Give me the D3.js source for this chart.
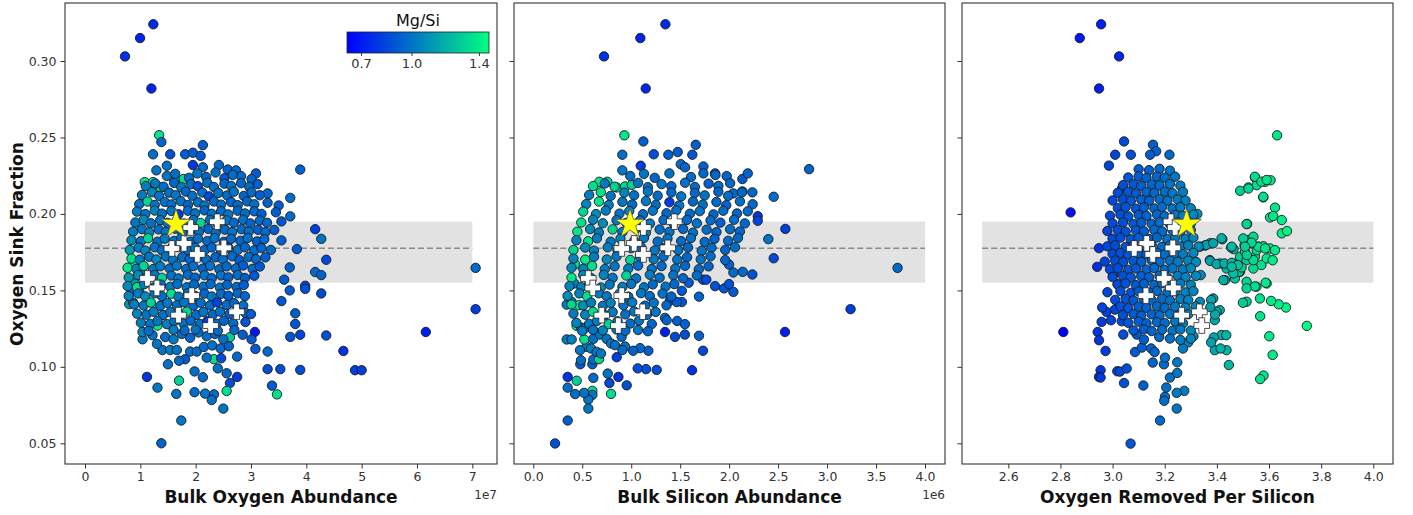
<!DOCTYPE html>
<html>
<head>
<meta charset="utf-8">
<script src="https://cdn.jsdelivr.net/npm/d3@7"></script>
<style>
  body { margin: 0; background: #fff; }
  text { font-family: "DejaVu Sans", sans-serif; }
</style>
</head>
<body>
<div id="chart"></div>
<script>
// tick labels
var fracTicks = [0.05, 0.10, 0.15, 0.20, 0.25, 0.30];
var oxygenTicks = [0, 1, 2, 3, 4, 5, 6, 7];
var siliconTicks = [0, 0.5, 1.0, 1.5, 2.0, 2.5, 3.0, 3.5, 4.0];
var removedTicks = [2.6, 2.8, 3.0, 3.2, 3.4, 3.6, 3.8, 4.0];
var mgTicks = [0.7, 1.0, 1.4];

// reference band and line (oxygen sink fraction)
var bandLow = 0.155, bandHigh = 0.195, bandMid = 0.1775;

// highlighted systems (white crosses), shared across the three panels
var plusFrac = [0.1949, 0.1911, 0.1807, 0.1774, 0.1778, 0.1735, 0.1578, 0.1516, 0.1466, 0.1338, 0.1360, 0.1270];
var plusOxygen = [2.39, 1.91, 1.79, 1.57, 2.51, 2.03, 1.13, 1.30, 1.93, 1.69, 2.74, 2.27];
var plusSilicon = [1.44, 1.124, 1.03, 0.903, 1.373, 1.124, 0.562, 0.607, 0.903, 0.699, 1.117, 0.868];
var plusRemoved = [3.224, 3.24, 3.131, 3.083, 3.231, 3.154, 3.198, 3.233, 3.128, 3.265, 3.333, 3.342];

// the Sun (yellow star)
var sunFrac = 0.194, sunOxygen = 1.645, sunSilicon = 0.988, sunRemoved = 3.284;

// [bulk O (1e7), sink fraction, Mg/Si]
var oxygenPts = [
[1.235,.324,.76],[0.995,.315,.74],[0.723,.303,.78],[1.20,.282,.74],
[1.34,.2515,1.38],[1.38,.247,.95],[1.23,.239,.98],[1.54,.239,.88],[1.81,.239,.93],[1.95,.240,.93],[2.09,.238,.9],[2.13,.245,.93],[1.95,.232,.8],[1.48,.2315,1.0],[1.29,.2285,1.0],[2.13,.2305,.97],[3.89,.229,.94],[2.42,.232,.96],[2.58,.229,.94],[2.73,.2285,.96],[3.09,.2265,.92],[2.82,.2247,.97],[3.01,.2228,.95],
[1.08,.2208,1.38],[1.23,.2208,1.36],[1.37,.2173,1.4],[1.78,.2228,1.33],[1.62,.222,1.3],
[3.30,.2134,.96],[3.30,.2073,.94],[3.71,.2105,.98],[3.71,.1984,.97],[4.16,.190,.82],[4.27,.1837,1.0],[4.36,.170,.86],[4.16,.162,.97],[4.27,.160,.94],[4.27,.148,.86],[3.98,.153,.86],[3.98,.151,.88],[7.06,.1647,.97],[7.06,.1377,.82],[6.16,.1228,.72],[4.67,.1104,.78],[4.88,.0978,.82],[5.0,.0978,.82],[4.36,.1205,.88],[3.89,.121,.84],[3.71,.1196,.9],[3.80,.128,.9],[3.89,.098,.86],[3.53,.0985,.88],[3.30,.0985,.88],[3.38,.0877,.93],[3.47,.082,1.36],[3.30,.110,.96],[3.07,.1228,.7],[3.01,.118,.9],[3.08,.1117,.92],[2.75,.1067,.97],[2.62,.1194,1.3],[2.75,.0934,.82],[2.62,.0894,.87],[2.56,.0842,1.35],[2.56,.0958,.97],[2.50,.0727,1.0],[2.33,.082,.97],[2.17,.0825,1.0],[1.98,.0834,.97],[2.29,.0783,.99],[2.13,.0932,.97],[1.70,.091,1.3],[1.65,.0823,1.0],[1.31,.0864,1.02],[1.12,.0934,.8],[1.74,.0649,1.0],[1.38,.050,.94],[2.33,.105,1.35],[2.46,.1056,.87],[1.98,.097,.97],[1.81,.105,.92],[1.9,.11,.99],[2.02,.11,.97],[1.50,.1017,.99],[1.04,.118,1.02],[1.04,.1228,1.07],[1.22,.1207,1.0],[1.31,.127,1.38],[1.40,.111,1.0],[1.54,.111,1.02],[1.66,.111,1.0],[0.80,.141,1.12],[0.87,.142,1.07],[0.84,.150,.97],[0.98,.1495,1.02],[0.90,.167,1.35],[0.90,.1545,1.12],[0.99,.1617,1.07],
[1.45,.1195,.97],[1.6,.118,1.02],[1.75,.1215,.98],[1.9,.119,.95],[2.05,.1225,.99],[2.2,.12,.97],[2.35,.1215,.94],[2.5,.118,.98],[2.85,.121,.92],[1.3,.115,1.0],[2.15,.113,.97],[2.3,.114,.99],[2.45,.112,.97],[2.6,.1135,.95],[2.2,.106,.98],[1.7,.104,.97],[2.4,.099,.99],
[3.6,.157,.92],[3.7,.150,.92],[3.55,.143,.9],[3.8,.135,.92],[3.7,.165,.92],[3.83,.177,.92],
[1.48,.2248,1.0],[1.63,.2262,.98],[1.88,.2236,.97],[2.03,.2265,1.01],[2.19,.2241,.96],[2.36,.2271,.99],[2.52,.2233,.9],[2.67,.2255,.98],
[1.1,.2182,1.03],[1.27,.2199,1.0],[1.42,.2178,.98],[1.61,.2203,.96],[1.74,.2175,1.01],[1.92,.2195,.98],[2.04,.2181,.88],[2.21,.2204,1.0],[2.33,.2176,.98],[2.52,.2198,.96],[2.64,.2183,.99],[2.82,.2201,.95],[2.97,.2177,.98],[3.12,.2195,.93],
[1.03,.2124,1.02],[1.21,.2142,1.05],[1.34,.2118,1.0],[1.52,.2139,.98],[1.64,.2122,1.01],[1.82,.2146,.96],[1.94,.2119,.99],[2.12,.214,.98],[2.24,.2115,.86],[2.41,.2137,1.0],[2.57,.2121,.97],[2.69,.2145,.99],[2.87,.2118,.95],[3.01,.2141,.98],[3.16,.2122,.93],
[0.98,.2064,.99],[1.13,.2081,1.32],[1.26,.2058,1.01],[1.44,.2079,.99],[1.56,.2062,.97],[1.73,.2084,1.0],[1.86,.2059,.95],[2.04,.2076,.98],[2.16,.2055,1.01],[2.33,.2081,.97],[2.46,.2061,.99],[2.64,.2078,.94],[2.76,.2057,.98],[2.93,.2082,.96],[3.06,.2063,.99],[3.5,.2055,.92],
[0.94,.2015,1.03],[1.09,.1999,1.0],[1.26,.2022,1.05],[1.39,.2002,.98],[1.56,.2019,1.01],[1.69,.1998,.82],[1.86,.2021,.98],[1.99,.2004,1.0],[2.16,.2023,.96],[2.29,.2001,.99],[2.46,.2018,.97],[2.59,.1997,1.0],[2.76,.2021,.95],[2.89,.2003,.98],[3.06,.2017,.96],[3.19,.2,.93],[3.45,.2011,.93],
[0.91,.1944,1.01],[1.06,.1962,1.08],[1.19,.1939,.99],[1.36,.1959,1.02],[1.49,.1942,.98],[1.66,.1957,1.0],[1.79,.1937,.96],[1.96,.196,.99],[2.09,.1941,1.32],[2.26,.1961,.98],[2.39,.1939,.95],[2.56,.1958,1.0],[2.69,.1943,.97],[2.86,.1962,.99],[2.99,.1938,.95],[3.16,.1957,.98],[3.29,.1942,.96],[3.55,.1951,.9],
[0.87,.1884,1.03],[1.03,.1901,1.0],[1.16,.1879,1.05],[1.33,.1899,.98],[1.46,.1882,1.01],[1.63,.1903,.99],[1.76,.1878,.96],[1.93,.1898,1.0],[2.06,.1883,.98],[2.23,.1902,.95],[2.36,.1877,.99],[2.53,.1897,.97],[2.66,.1881,1.0],[2.83,.19,.96],[2.96,.1885,.98],[3.13,.1896,.94],[3.26,.188,.97],[3.42,.1895,.92],
[0.84,.1828,1.08],[1.01,.1821,1.01],[1.14,.1841,1.32],[1.31,.1818,.99],[1.44,.1838,1.02],[1.61,.1823,.98],[1.74,.1843,1.0],[1.91,.1819,.96],[2.04,.1839,.99],[2.21,.1822,.97],[2.34,.1842,1.0],[2.51,.1817,.95],[2.64,.1837,.98],[2.81,.1824,.96],[2.94,.1843,.99],[3.11,.182,.93],[3.24,.1835,.97],[3.55,.1827,.93],
[0.81,.1764,1.12],[0.97,.178,1.03],[1.09,.176,1.05],[1.26,.1782,1.0],[1.39,.1762,.98],[1.56,.1776,1.01],[1.69,.1783,.99],[1.86,.1761,.96],[1.99,.1778,1.0],[2.16,.1763,.98],[2.29,.1781,.95],[2.46,.1759,.99],[2.59,.1779,.97],[2.76,.1765,1.0],[2.89,.1782,.96],[3.06,.1762,.98],[3.19,.1777,.94],[3.36,.1764,.97],
[0.84,.1708,1.36],[0.99,.1701,1.03],[1.16,.172,1.0],[1.29,.1702,1.08],[1.46,.1722,.99],[1.59,.1699,1.01],[1.76,.1718,.98],[1.89,.1704,.96],[2.06,.1721,1.0],[2.19,.1701,.98],[2.36,.1717,.95],[2.49,.1703,.99],[2.66,.1723,.97],[2.79,.1698,.93],[2.96,.1719,.98],[3.09,.1705,.96],[3.26,.1716,.93],
[0.77,.1648,1.38],[0.93,.1641,1.05],[1.06,.166,1.32],[1.23,.1639,1.01],[1.36,.1658,1.03],[1.53,.1643,.98],[1.66,.1662,1.0],[1.83,.164,.97],[1.96,.1659,.99],[2.13,.1642,.95],[2.26,.1661,1.0],[2.43,.1638,.98],[2.56,.1657,.96],[2.73,.1644,.99],[2.86,.1663,.93],[3.03,.1641,.97],[3.16,.1656,.91],
[0.79,.1584,1.12],[0.96,.16,1.08],[1.09,.158,1.03],[1.26,.1601,1.0],[1.39,.1582,1.32],[1.56,.1597,.99],[1.69,.1578,1.01],[1.86,.1602,.98],[1.99,.1583,.96],[2.16,.1599,1.0],[2.29,.1579,.97],[2.46,.1598,.99],[2.59,.1585,.95],[2.76,.1601,.98],[2.89,.1581,.93],[3.06,.1596,.91],
[0.77,.1528,1.08],[0.94,.1521,1.36],[1.07,.154,1.03],[1.24,.1519,1.01],[1.37,.1538,.99],[1.54,.1523,1.03],[1.67,.1542,.98],[1.84,.152,1.0],[1.97,.1539,.96],[2.14,.1524,.99],[2.27,.1541,.97],[2.44,.1518,1.0],[2.57,.1537,.95],[2.74,.1522,.98],[2.87,.1535,.93],
[0.79,.1464,1.05],[0.96,.148,1.03],[1.09,.1461,1.08],[1.26,.1481,1.0],[1.39,.1462,.98],[1.56,.1478,1.36],[1.69,.1459,1.01],[1.86,.1482,.97],[1.99,.1463,.99],[2.16,.1479,.96],[2.29,.146,1.0],[2.46,.1477,.98],[2.59,.1465,.93],[2.76,.1481,.97],[2.89,.1462,.95],
[0.89,.1408,1.03],[1.06,.1401,1.01],[1.19,.142,1.32],[1.36,.1399,.99],[1.49,.1418,1.02],[1.66,.1403,.98],[1.79,.1422,1.0],[1.96,.14,.96],[2.09,.1419,.99],[2.26,.1402,.97],[2.39,.1421,.84],[2.56,.1404,.98],[2.69,.1417,.95],[2.86,.1401,.99],
[0.94,.1348,1.05],[1.11,.1341,1.0],[1.24,.136,1.03],[1.41,.1339,.99],[1.54,.1358,1.01],[1.71,.1343,.97],[1.84,.1362,1.32],[2.01,.134,.98],[2.14,.1359,1.0],[2.31,.1342,.96],[2.44,.1361,.99],[2.61,.1344,.93],[2.9,.1353,.96],[3.0,.1345,.92],
[1.01,.1288,1.03],[1.18,.1281,.99],[1.31,.13,1.01],[1.48,.1279,1.05],[1.61,.1298,.98],[1.78,.1283,1.0],[1.91,.1302,.96],[2.08,.128,.99],[2.21,.1299,.8],[2.38,.1282,.98],[2.51,.1301,.95],[2.68,.1284,.98],[2.9,.1293,.9],
[1.15,.1235,.98],[1.6,.1242,1.03],[1.8,.1238,.96],[2.0,.1244,.99],[2.4,.1236,.98],[2.7,.1241,.95]
];

// [bulk Si (1e6), sink fraction, Mg/Si]
var siliconPts = [
[1.349,.324,.76],[1.093,.315,.74],[0.722,.303,.78],[1.148,.282,.74],
[0.93,.2514,1.38],[1.124,.2474,.93],[0.909,.2387,.98],[1.23,.239,.88],[1.379,.2387,.93],[1.475,.2405,.93],[1.624,.2387,.9],[1.659,.2452,.93],[1.097,.2315,.82],[0.909,.2285,1.0],[2.816,.2293,.94],[0.674,.221,1.38],[0.756,.221,1.36],[0.852,.2173,1.4],[0.937,.218,1.33],[1.005,.219,1.3],[1.506,.2325,.97],[1.55,.2305,.95],[1.737,.231,.94],[1.737,.2265,.96],[1.856,.2265,.97],[1.975,.2247,.95],[2.135,.2228,.92],[2.19,.2265,.94],[2.043,.2134,.96],[2.135,.2147,.94],[2.237,.2141,.95],[2.455,.2112,.98],[2.292,.1985,.82],[2.292,.1955,.84],[2.574,.1902,.82],[2.40,.1835,1.0],[2.455,.171,.86],
[3.72,.1647,.97],[3.24,.1377,.82],[2.57,.1228,.72],
[2.237,.1604,.88],[2.139,.1621,.97],[2.043,.1617,.97],[1.999,.1669,.94],[2.043,.149,.92],[1.948,.1513,.9],[1.856,.1528,.88],[1.999,.1541,.88],[1.692,.1459,.94],[1.733,.157,.88],[1.767,.157,.86],[1.587,.155,.92],[1.517,.1497,.9],[1.396,.1435,.92],[1.517,.1424,.9],[1.465,.1424,.92],[1.345,.132,.97],[1.362,.1305,.94],[1.469,.130,.92],[1.548,.1279,.94],[1.345,.1228,.72],[1.447,.1196,.86],[1.548,.1211,.88],[1.692,.1203,.94],[1.733,.1105,.86],[1.621,.0978,.78],[1.260,.098,.88],[1.151,.0985,.88],[1.066,.099,.88],[1.175,.1105,.92],[1.09,.1122,.96],[1.02,.1105,.94],[0.937,.1133,1.0],[0.852,.1063,.82],[0.91,.111,.98],[0.954,.0879,.88],[0.869,.0934,.78],[0.777,.0894,.86],[0.760,.0956,1.0],[0.794,.0823,1.35],[0.603,.0843,1.35],[0.603,.0817,1.0],[0.562,.0786,1.0],[0.562,.0727,1.0],[0.518,.083,1.0],[0.427,.0822,.98],[0.613,.0928,.98],[0.443,.0909,1.3],[0.351,.0934,.78],[0.351,.0864,.98],[0.351,.0649,.92],[0.222,.0499,.88],[0.48,.1017,.92],[0.487,.1043,.98],[0.603,.1017,.94],[0.613,.1048,.98],[0.671,.105,1.35],
[0.545,.1131,1.02],[0.477,.1109,1.0],[0.589,.112,1.04],[0.647,.1098,1.0],[0.691,.1087,1.02],
[0.341,.1179,1.02],[0.392,.1179,1.04],[0.521,.1179,1.35],[0.443,.1268,1.38],[0.487,.1257,1.0],[0.538,.1257,1.02],[0.613,.1183,.98],[0.681,.1211,1.02],[0.749,.1183,1.0],[0.794,.1153,1.02],[0.834,.1142,.99],[0.902,.1196,.97],
[0.341,.1407,1.04],[0.392,.1425,1.02],[0.467,.1403,1.38],[0.426,.1671,1.35],[0.419,.1545,1.04],
[0.99,.2248,.98],[1.13,.2262,1.0],[1.24,.2236,.96],[1.39,.2265,.99],[1.61,.2241,.97],[1.86,.2255,.95],
[0.61,.2182,1.36],[0.73,.2199,1.02],[0.83,.2178,1.3],[1.07,.2203,1.0],[1.17,.2175,.98],[1.31,.2195,1.01],[1.41,.2181,.96],[1.55,.2204,.99],[1.65,.2176,.97],[1.79,.2198,.93],[1.89,.2183,.98],[2.01,.2201,.96],
[0.57,.2124,1.03],[0.69,.2142,1.36],[0.79,.2118,1.01],[0.93,.2139,1.05],[1.03,.2122,.99],[1.17,.2146,1.01],[1.27,.2119,.98],[1.41,.214,.96],[1.51,.2115,1.0],[1.65,.2137,.97],[1.75,.2121,.99],[1.89,.2145,.95],[1.99,.2118,.98],[2.13,.2141,.96],
[0.54,.2064,1.05],[0.67,.2081,1.38],[0.77,.2058,1.03],[0.91,.2079,1.0],[1.01,.2062,.98],[1.15,.2084,1.02],[1.25,.2059,.99],[1.39,.2076,.82],[1.49,.2055,1.0],[1.63,.2081,.96],[1.73,.2061,.99],[1.87,.2078,.97],[1.97,.2057,.94],[2.11,.2082,.98],[2.24,.2063,.96],
[0.51,.2015,1.32],[0.64,.1999,1.08],[0.74,.2022,1.03],[0.88,.2002,1.0],[0.98,.2019,1.05],[1.12,.1998,.98],[1.22,.2021,1.01],[1.36,.2004,.96],[1.46,.2023,.99],[1.6,.2001,.97],[1.7,.2018,1.0],[1.84,.1997,.95],[1.94,.2021,.98],[2.08,.2003,.96],[2.19,.2017,.97],
[0.49,.1944,1.36],[0.61,.1962,1.05],[0.71,.1939,1.08],[0.85,.1959,1.01],[0.95,.1942,1.03],[1.09,.1957,.99],[1.19,.1937,1.02],[1.33,.196,.98],[1.43,.1941,1.0],[1.57,.1961,.96],[1.67,.1939,.99],[1.81,.1958,.97],[1.91,.1943,.93],[2.05,.1962,.98],[2.16,.1938,.96],
[0.45,.1884,1.38],[0.58,.1901,1.08],[0.67,.1879,1.03],[0.81,.1899,1.32],[0.91,.1882,1.01],[1.05,.1903,.99],[1.15,.1878,1.03],[1.29,.1898,.98],[1.39,.1883,1.0],[1.53,.1902,.96],[1.63,.1877,.99],[1.77,.1897,.97],[1.87,.1881,.95],[2.01,.19,.98],[2.11,.1885,.96],
[0.44,.1828,1.05],[0.56,.1821,1.36],[0.65,.1841,1.03],[0.79,.1818,1.01],[0.89,.1838,1.05],[1.03,.1823,.99],[1.13,.1843,1.01],[1.27,.1819,.98],[1.37,.1839,1.0],[1.51,.1822,.96],[1.61,.1842,.99],[1.75,.1817,.97],[1.85,.1837,.95],[1.99,.1824,.98],[2.09,.1843,.96],
[0.41,.1764,1.32],[0.53,.178,1.08],[0.62,.176,1.05],[0.76,.1782,1.03],[0.86,.1762,1.0],[1.0,.1776,1.05],[1.1,.1783,.98],[1.24,.1761,1.01],[1.34,.1778,.97],[1.48,.1763,.99],[1.58,.1781,.96],[1.72,.1759,1.0],[1.82,.1779,.97],[1.96,.1765,.94],[2.06,.1782,.98],
[0.41,.1708,1.05],[0.53,.1701,1.38],[0.62,.172,1.03],[0.75,.1702,1.08],[0.85,.1722,1.01],[0.99,.1699,1.32],[1.09,.1718,.99],[1.23,.1704,1.02],[1.33,.1721,.98],[1.47,.1701,1.0],[1.57,.1717,.96],[1.71,.1703,.99],[1.81,.1723,.97],[1.96,.1698,.95],
[0.39,.1648,1.08],[0.51,.1641,1.05],[0.6,.166,1.36],[0.73,.1639,1.03],[0.83,.1658,1.0],[0.97,.1643,1.03],[1.07,.1662,.98],[1.21,.164,1.01],[1.31,.1659,.97],[1.45,.1642,1.0],[1.55,.1661,.96],[1.69,.1638,.98],[1.79,.1657,.95],
[0.39,.1584,1.38],[0.51,.16,1.08],[0.59,.158,1.03],[0.72,.1601,1.05],[0.81,.1582,1.01],[0.95,.1597,1.32],[1.05,.1578,.99],[1.19,.1602,1.02],[1.29,.1583,.98],[1.43,.1599,1.0],[1.53,.1579,.96],[1.67,.1598,.98],
[0.37,.1528,1.05],[0.49,.1521,1.03],[0.57,.154,1.32],[0.69,.1519,1.08],[0.78,.1538,1.01],[0.91,.1523,1.03],[1.0,.1542,.99],[1.13,.152,1.01],[1.22,.1539,.97],[1.35,.1524,1.0],[1.44,.1541,.96],
[0.35,.1464,1.08],[0.47,.148,1.05],[0.55,.1461,1.36],[0.67,.1481,1.03],[0.75,.1462,1.01],[0.88,.1478,1.05],[0.97,.1459,.98],[1.1,.1482,1.01],[1.19,.1463,.97],[1.32,.1479,.99],[1.41,.146,.95],
[0.39,.1408,1.32],[0.51,.1401,1.08],[0.59,.142,1.03],[0.71,.1399,1.01],[0.79,.1418,1.05],[0.92,.1403,.99],[1.01,.1422,1.02],[1.14,.14,.98],[1.23,.1419,1.0],[1.36,.1402,.96],
[0.41,.1348,1.03],[0.53,.1341,1.05],[0.61,.136,1.36],[0.73,.1339,1.01],[0.81,.1358,1.03],[0.94,.1343,.99],[1.03,.1362,1.01],[1.16,.134,.97],[1.25,.1359,.99],
[0.44,.1288,1.05],[0.57,.1281,1.01],[0.65,.13,1.03],[0.77,.1279,1.32],[0.86,.1298,1.0],[0.99,.1283,.98],[1.08,.1302,1.01],[1.21,.128,.96],
[0.5,.1235,1.03],[0.61,.1242,.99],[0.71,.1238,1.05],[0.85,.1244,1.01],[0.94,.1236,.98],[1.07,.1241,1.0],[1.17,.1233,.95]
];

// [oxygen removed per Si, sink fraction, Mg/Si]
var removedPts = [
[2.956,.324,.72],[2.874,.315,.7],[3.025,.303,.74],[2.948,.282,.72],[3.631,.2514,1.38],[3.044,.2474,.86],[3.01,.2387,.84],[3.07,.2387,.88],[3.155,.2452,.94],[3.167,.241,.94],[3.144,.2387,.92],[3.218,.2387,.96],[2.986,.2316,.84],[2.839,.201,.68],[3.036,.2165,.86],
[3.489,.2151,1.3],[3.521,.2173,1.32],[3.546,.2238,1.36],[3.553,.2188,1.35],[3.585,.221,1.37],[3.606,.222,1.38],[3.578,.2108,1.37],[3.623,.2041,1.39],[3.604,.1977,1.38],[3.616,.1986,1.39],[3.649,.196,1.41],[3.516,.1934,1.32],[3.649,.1873,1.41],[3.669,.1888,1.43],
[3.521,.2166,1.32],[3.546,.2243,1.35],[3.571,.2211,1.36],[3.591,.2222,1.37],[3.578,.2112,1.36],[3.514,.1934,1.31],
[3.325,.2,1.1],[3.421,.1834,1.18],[3.374,.1808,1.14],[3.354,.1793,1.12],[3.335,.1786,1.1],[3.464,.177,1.24],[3.455,.178,1.22],
[3.418,.1841,1.2],[3.36,.1797,1.14],[3.386,.1808,1.16],[3.457,.1786,1.23],[3.373,.1698,1.15],[3.411,.1676,1.19],[3.437,.1643,1.21],[3.462,.1676,1.24],[3.489,.172,1.28],[3.508,.1753,1.3],[3.521,.1829,1.32],[3.54,.1851,1.34],[3.559,.1786,1.35],[3.514,.1698,1.31],[3.546,.172,1.34],[3.571,.1666,1.36],[3.54,.1643,1.34],[3.489,.1622,1.28],[3.469,.1578,1.26],[3.431,.1567,1.21],[3.514,.1556,1.31],[3.552,.1524,1.35],[3.591,.1545,1.38],[3.386,.1447,1.16],[3.411,.1371,1.19],[3.392,.1306,1.17],[3.514,.1426,1.31],[3.565,.1447,1.36],[3.418,.1208,1.2],[3.437,.1109,1.22],[3.392,.1109,1.17],
[3.374,.1693,1.15],[3.399,.1672,1.18],[3.429,.1676,1.21],[3.457,.168,1.24],[3.485,.1622,1.28],[3.425,.1567,1.2],[3.463,.1611,1.25],[3.495,.165,1.29],[3.48,.1665,1.27],[3.457,.1654,1.24],[3.54,.1698,1.34],[3.515,.1731,1.31],[3.553,.1763,1.35],[3.578,.1789,1.37],[3.604,.1774,1.38],[3.623,.1763,1.39],[3.591,.1709,1.38],[3.506,.1796,1.3],[3.532,.1807,1.33],[3.559,.1785,1.35],
[3.501,.184,1.3],[3.533,.1812,1.33],[3.585,.1775,1.37],[3.508,.1786,1.3],
[2.811,.1228,.62],[2.941,.1654,.78],[2.948,.1776,.78],
[3.745,.1268,1.45],[3.665,.1388,1.43],[3.637,.1409,1.42],[3.608,.1431,1.4],[3.614,.1697,1.4],[3.587,.155,1.39],[3.546,.1526,1.35],[3.514,.1513,1.32],[3.566,.1331,1.37],[3.601,.12,1.4],[3.614,.1078,1.4],[3.50,.1419,1.3],[3.436,.1207,1.22],[3.388,.1192,1.17],[3.414,.112,1.2],[3.378,.116,1.16],[3.446,.1012,1.23],[3.579,.0943,1.38],[3.566,.092,1.37],[3.378,.1437,1.16],[3.399,.136,1.18],[3.393,.1342,1.18],[3.375,.139,1.15],
[3.069,.0498,.9],[3.182,.0649,.96],[3.246,.0727,1.01],[3.275,.0843,1.03],[3.246,.083,1.01],[3.201,.0804,.98],[3.198,.0778,.98],[3.206,.0865,.98],[3.22,.093,.99],[3.248,.096,1.01],[3.248,.103,1.01],[3.118,.0878,.93],[3.044,.0894,.88],[2.954,.0978,.8],[2.948,.0934,.8],[2.954,.093,.8],[2.973,.1104,.82],[3.018,.0971,.86],[3.028,.0969,.86],[3.054,.0989,.88],[3.154,.1028,.95],[3.197,.1017,.97],[3.201,.106,.98],[3.179,.1195,.96],[2.943,.1228,.8],[2.948,.1174,.8],[2.958,.1294,.82],[2.977,.1359,.83],[3.009,.1374,.85],[2.994,.1305,.84],[3.035,.1298,.87],[3.041,.1211,.87],[3.093,.1211,.91],[3.086,.1097,.91],[3.112,.1126,.93],[3.148,.112,.95],[3.161,.1097,.95],
[3.003,.1607,.86],[3.019,.1541,.87],[3.338,.16,1.08],[3.335,.1425,1.08],[3.31,.12,1.06],[3.29,.116,1.05],[3.27,.112,1.03],
[3.1,.2292,.92],[3.14,.2286,.94],[3.18,.2295,.97],[3.22,.2283,.99],
[3.06,.2238,.9],[3.1,.2246,.92],[3.13,.2235,.94],[3.17,.2244,.96],[3.2,.2237,.98],[3.24,.2243,1.01],
[3.04,.2188,.88],[3.08,.2195,.91],[3.11,.2184,.93],[3.15,.2193,.95],[3.18,.2186,.97],[3.22,.2196,.99],[3.26,.2185,1.02],
[3.02,.2138,.87],[3.06,.2145,.9],[3.09,.2134,.91],[3.13,.2143,.94],[3.16,.2136,.96],[3.2,.2146,.98],[3.23,.2135,1.0],[3.27,.2144,1.03],
[3.0,.2088,.86],[3.04,.2095,.88],[3.07,.2084,.9],[3.11,.2093,.93],[3.14,.2086,.94],[3.18,.2096,.97],[3.21,.2085,.99],[3.25,.2094,1.02],[3.28,.2087,1.04],
[3.02,.2038,.87],[3.05,.2045,.89],[3.09,.2034,.91],[3.12,.2043,.93],[3.16,.2036,.96],[3.19,.2046,.97],[3.23,.2035,1.0],[3.26,.2044,1.02],[3.3,.2037,1.06],
[2.99,.1988,.86],[3.03,.1995,.88],[3.06,.1984,.9],[3.1,.1993,.92],[3.13,.1986,.94],[3.17,.1996,.96],[3.2,.1985,.98],[3.24,.1994,1.01],[3.27,.1987,1.03],[3.31,.1995,1.06],
[3.0,.1938,.86],[3.04,.1945,.88],[3.08,.1934,.91],[3.11,.1943,.93],[3.15,.1936,.95],[3.18,.1946,.97],[3.22,.1935,.99],[3.25,.1944,1.02],[3.3,.1937,1.06],
[2.98,.1888,.85],[3.02,.1895,.87],[3.05,.1884,.89],[3.09,.1893,.91],[3.12,.1886,.93],[3.16,.1896,.96],[3.19,.1885,.97],[3.23,.1894,1.0],[3.26,.1887,1.02],[3.3,.1895,1.06],
[3.0,.1838,.86],[3.03,.1845,.88],[3.07,.1834,.9],[3.1,.1843,.92],[3.14,.1836,.94],[3.17,.1846,.96],[3.21,.1835,.99],[3.24,.1844,1.01],[3.28,.1837,1.04],[3.31,.1845,1.06],
[2.98,.1788,.85],[3.01,.1795,.87],[3.05,.1784,.89],[3.08,.1793,.91],[3.12,.1786,.93],[3.15,.1796,.95],[3.19,.1785,.97],[3.22,.1794,.99],[3.26,.1787,1.02],[3.29,.1795,1.05],[3.33,.1786,1.08],
[3.0,.1738,.86],[3.03,.1745,.88],[3.06,.1734,.9],[3.1,.1743,.92],[3.13,.1736,.94],[3.17,.1746,.96],[3.2,.1735,.98],[3.24,.1744,1.01],[3.27,.1737,1.03],[3.31,.1745,1.06],
[2.97,.1688,.84],[3.01,.1695,.87],[3.04,.1684,.88],[3.08,.1693,.91],[3.11,.1686,.93],[3.15,.1696,.95],[3.18,.1685,.97],[3.22,.1694,.99],[3.25,.1687,1.02],[3.29,.1695,1.05],[3.32,.1686,1.07],
[2.99,.1638,.86],[3.02,.1645,.87],[3.06,.1634,.9],[3.09,.1643,.91],[3.13,.1636,.94],[3.16,.1646,.96],[3.2,.1635,.98],[3.23,.1644,1.0],[3.27,.1637,1.03],[3.3,.1645,1.06],
[3.0,.1588,.86],[3.04,.1595,.88],[3.07,.1584,.9],[3.11,.1593,.93],[3.14,.1586,.94],[3.18,.1596,.97],[3.21,.1585,.99],[3.25,.1594,1.02],[3.28,.1587,1.04],[3.32,.1595,1.07],
[3.02,.1538,.87],[3.05,.1545,.89],[3.09,.1534,.91],[3.12,.1543,.93],[3.16,.1536,.96],[3.19,.1546,.97],[3.23,.1535,1.0],[3.26,.1544,1.02],[3.3,.1537,1.06],
[2.98,.1488,.85],[3.03,.1495,.88],[3.07,.1484,.9],[3.1,.1493,.92],[3.14,.1486,.94],[3.17,.1496,.96],[3.21,.1485,.99],[3.24,.1494,1.01],[3.28,.1487,1.04],[3.31,.1495,1.06],
[3.01,.1438,.87],[3.05,.1445,.89],[3.08,.1434,.91],[3.12,.1443,.93],[3.15,.1436,.95],[3.19,.1446,.97],[3.22,.1435,.99],[3.26,.1444,1.02],[3.29,.1437,1.05],
[2.96,.1388,.84],[3.03,.1395,.88],[3.06,.1384,.9],[3.1,.1393,.92],[3.13,.1386,.94],[3.17,.1396,.96],[3.2,.1385,.98],[3.24,.1394,1.01],[3.28,.1387,1.04],[3.32,.1395,1.07],
[3.04,.1338,.88],[3.08,.1345,.91],[3.11,.1334,.93],[3.15,.1343,.95],[3.18,.1336,.97],[3.22,.1346,.99],[3.25,.1335,1.02],[3.29,.1344,1.05],
[3.06,.1288,.9],[3.1,.1295,.92],[3.13,.1284,.94],[3.17,.1293,.96],[3.2,.1286,.98],[3.24,.1296,1.01],[3.27,.1285,1.03],
[3.08,.1238,.91],[3.12,.1245,.93],[3.15,.1234,.95],[3.19,.1243,.97],[3.23,.1236,1.0],[3.26,.1244,1.02],[3.3,.1237,1.06],
[3.12,.1178,.93],[3.22,.1185,.99],[3.26,.1176,1.02],[3.3,.1184,1.06]
];

var width = 1413, height = 515;
var plotTop = 3, plotBottom = 464;

var svg = d3.select("#chart").append("svg")
    .attr("width", width)
    .attr("height", height);

// shared y scale
var y = d3.scaleLinear().domain([0.05, 0.30]).range([443.3, 61]);

// matplotlib "winter" colormap
var color = d3.scaleLinear()
    .domain([0.617, 1.46])
    .range(["#0000ff", "#00ff80"])
    .interpolate(d3.interpolateRgb)
    .clamp(true);

var panels = [
    { pts: oxygenPts, left: 65, right: 497, domain: [0, 7], range: [85, 472.3], band: [0, 7],
      ticks: oxygenTicks, fmt: d3.format("d"), label: "Bulk Oxygen Abundance", offset: "1e7",
      plusX: plusOxygen, sunX: sunOxygen, yLabels: true },
    { pts: siliconPts, left: 514, right: 945, domain: [0, 4], range: [533.3, 925], band: [0, 4],
      ticks: siliconTicks, fmt: d3.format(".1f"), label: "Bulk Silicon Abundance", offset: "1e6",
      plusX: plusSilicon, sunX: sunSilicon, yLabels: false },
    { pts: removedPts, left: 962, right: 1393, domain: [2.6, 4.0], range: [1008.3, 1373.3], band: [2.5, 4.0],
      ticks: removedTicks, fmt: d3.format(".1f"), label: "Oxygen Removed Per Silicon", offset: "",
      plusX: plusRemoved, sunX: sunRemoved, yLabels: false }
];

// plus marker path
function plusPath(s, w) {
    return "M" + (-w) + "," + (-s) + "H" + w + "V" + (-w) + "H" + s + "V" + w + "H" + w +
        "V" + s + "H" + (-w) + "V" + w + "H" + (-s) + "V" + (-w) + "H" + (-w) + "Z";
}
var star = d3.symbol().type(d3.symbolStar).size(270);

panels.forEach(function (p) {
    var x = d3.scaleLinear().domain(p.domain).range(p.range);
    var g = svg.append("g");

    // reference band + dashed line
    g.append("rect")
        .attr("x", x(p.band[0]))
        .attr("width", x(p.band[1]) - x(p.band[0]))
        .attr("y", y(bandHigh))
        .attr("height", y(bandLow) - y(bandHigh))
        .attr("fill", "#e2e2e2");
    g.append("line")
        .attr("x1", x(p.band[0])).attr("x2", x(p.band[1]))
        .attr("y1", y(bandMid)).attr("y2", y(bandMid))
        .attr("stroke", "#8a8a8a")
        .attr("stroke-width", 1.5)
        .attr("stroke-dasharray", "6,3");

    // scatter
    g.selectAll(".dot")
        .data(p.pts)
        .enter()
        .append("circle")
        .attr("class", "dot")
        .attr("cx", function (d) { return x(d[0]); })
        .attr("cy", function (d) { return y(d[1]); })
        .attr("r", 4.7)
        .attr("fill", function (d) { return color(d[2]); })
        .attr("stroke", "#1a1a1a")
        .attr("stroke-width", 0.9);

    // white crosses
    g.selectAll(".plus")
        .data(plusFrac)
        .enter()
        .append("path")
        .attr("class", "plus")
        .attr("d", plusPath(7.8, 2.9))
        .attr("transform", function (d, i) { return "translate(" + x(p.plusX[i]) + "," + y(d) + ")"; })
        .attr("fill", "#ffffff")
        .attr("stroke", "#222")
        .attr("stroke-width", 0.8);

    // the Sun
    g.append("path")
        .attr("d", star)
        .attr("transform", "translate(" + x(p.sunX) + "," + (y(sunFrac) + 1) + ")")
        .attr("fill", "#ffff00")
        .attr("stroke", "#555")
        .attr("stroke-width", 0.8);

    // frame
    g.append("rect")
        .attr("x", p.left).attr("y", plotTop)
        .attr("width", p.right - p.left).attr("height", plotBottom - plotTop)
        .attr("fill", "none")
        .attr("stroke", "#333")
        .attr("stroke-width", 1.1);

    // x axis
    var xAxis = d3.axisBottom(x).tickValues(p.ticks).tickFormat(p.fmt).tickSize(4.5).tickPadding(4);
    var gx = g.append("g")
        .attr("transform", "translate(0," + plotBottom + ")")
        .call(xAxis);
    gx.select(".domain").remove();
    gx.selectAll("line").attr("stroke", "#333");
    gx.selectAll("text").attr("fill", "#333").style("font-size", "12.5px").style("font-family", "DejaVu Sans");

    // y axis
    var yAxis = d3.axisLeft(y).tickValues(fracTicks).tickSize(4.5).tickPadding(4)
        .tickFormat(p.yLabels ? d3.format(".2f") : "");
    var gy = g.append("g")
        .attr("transform", "translate(" + p.left + ",0)")
        .call(yAxis);
    gy.select(".domain").remove();
    gy.selectAll("line").attr("stroke", "#333");
    gy.selectAll("text").attr("fill", "#333").style("font-size", "12.5px").style("font-family", "DejaVu Sans");

    // axis label
    g.append("text")
        .attr("x", (p.left + p.right) / 2)
        .attr("y", 503)
        .attr("text-anchor", "middle")
        .style("font-size", "17px")
        .style("font-weight", "bold")
        .attr("fill", "#111")
        .text(p.label);

    if (p.offset) {
        g.append("text")
            .attr("x", p.right)
            .attr("y", 499)
            .attr("text-anchor", "end")
            .style("font-size", "12px")
            .attr("fill", "#333")
            .text(p.offset);
    }
});

// y label
svg.append("text")
    .attr("transform", "translate(17,244) rotate(-90)")
    .attr("text-anchor", "middle")
    .attr("dominant-baseline", "central")
    .style("font-size", "17px")
    .style("font-weight", "bold")
    .attr("fill", "#111")
    .text("Oxygen Sink Fraction");

// colorbar inset
var cb = { x0: 347, x1: 489, top: 32, bottom: 53 };
var cx = d3.scaleLinear().domain([0.617, 1.46]).range([cb.x0, cb.x1]);
var grad = svg.append("defs").append("linearGradient").attr("id", "winter");
grad.append("stop").attr("offset", "0%").attr("stop-color", "#0000ff");
grad.append("stop").attr("offset", "100%").attr("stop-color", "#00ff80");
svg.append("rect")
    .attr("x", cb.x0).attr("y", cb.top)
    .attr("width", cb.x1 - cb.x0).attr("height", cb.bottom - cb.top)
    .attr("fill", "url(#winter)")
    .attr("stroke", "#222")
    .attr("stroke-width", 0.8);
var gc = svg.append("g")
    .attr("transform", "translate(0," + cb.bottom + ")")
    .call(d3.axisBottom(cx).tickValues(mgTicks).tickFormat(d3.format(".1f")).tickSize(3).tickPadding(3));
gc.select(".domain").remove();
gc.selectAll("line").attr("stroke", "#333");
gc.selectAll("text").attr("fill", "#333").style("font-size", "13px").style("font-family", "DejaVu Sans");
svg.append("text")
    .attr("x", (cb.x0 + cb.x1) / 2)
    .attr("y", 26)
    .attr("text-anchor", "middle")
    .style("font-size", "16px")
    .attr("fill", "#111")
    .text("Mg/Si");
</script>
</body>
</html>
